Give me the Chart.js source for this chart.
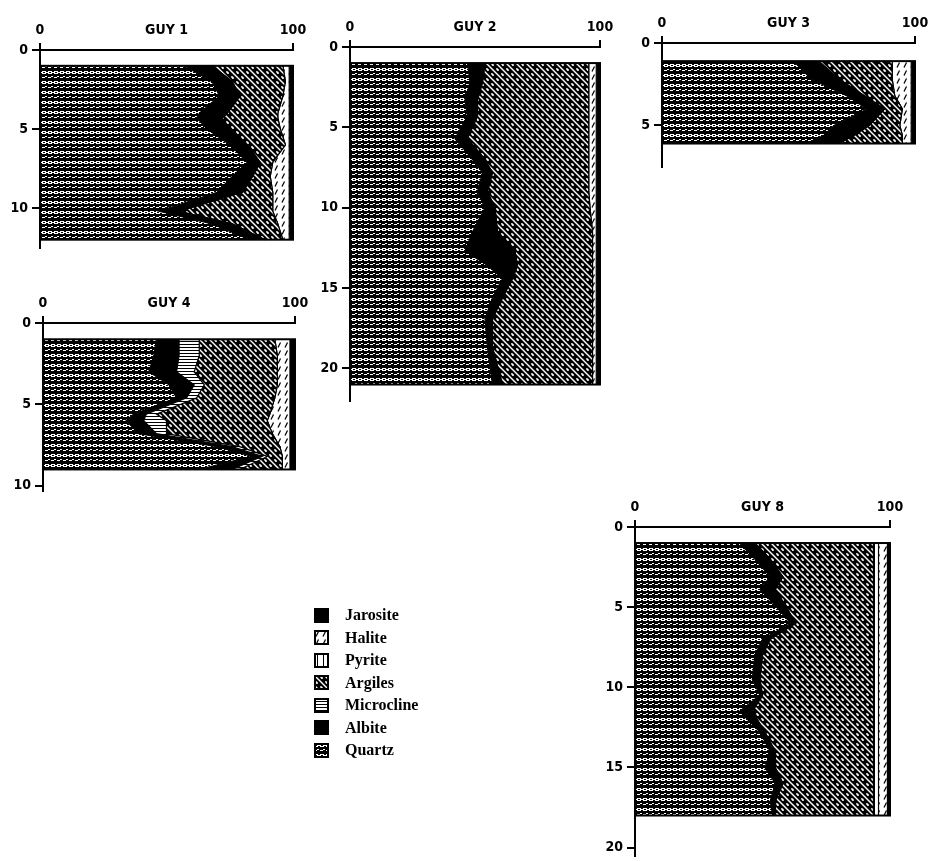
<!DOCTYPE html>
<html>
<head>
<meta charset="utf-8">
<script src="https://cdn.jsdelivr.net/npm/chart.js@4.4.0/dist/chart.umd.min.js"></script>
<style>
    body { margin: 0; background: #fff; width: 932px; height: 861px; position: relative; overflow: hidden; }
    canvas.chart { position: absolute; }
    #legend { position: absolute; left: 314px; top: 604px; font: bold 16px 'Liberation Serif', 'DejaVu Serif', serif; color: #000; }
    .row { display: flex; align-items: center; height: 22.5px; }
    .row canvas { margin-right: 16px; }
</style>
</head>
<body>
<canvas id="guy1" class="chart" style="left:0px;top:20px" width="315" height="240"></canvas>
<canvas id="guy2" class="chart" style="left:310px;top:17px" width="312" height="396"></canvas>
<canvas id="guy3" class="chart" style="left:622px;top:13px" width="315" height="166"></canvas>
<canvas id="guy4" class="chart" style="left:3px;top:293px" width="314" height="210"></canvas>
<canvas id="guy8" class="chart" style="left:595px;top:497px" width="317" height="371"></canvas>
<div id="legend"></div>
<script>
// stacking order, left (0 %) to right (100 %)
const minerals = ['Quartz', 'Albite', 'Microcline', 'Argiles', 'Pyrite', 'Halite', 'Jarosite'];
const legendOrder = ['Jarosite', 'Halite', 'Pyrite', 'Argiles', 'Microcline', 'Albite', 'Quartz'];
const xTicks = [0, 50, 100];

// GUY 1
const guy1Depth      = [1, 2, 2.9, 4, 4.3, 5, 6, 7.1, 8, 9, 10.2, 11, 12];
const guy1Quartz     = [57, 68, 71, 63, 62, 66, 75, 82, 76, 70, 47, 68, 83];
const guy1Albite     = [11, 8, 8, 11, 10, 9, 7, 5, 8, 10, 8, 8, 6];
const guy1Microcline = [0, 0, 0, 0, 0, 0, 0, 0, 0, 0, 0, 0, 0];
const guy1Argiles    = [28, 21, 17, 20, 22, 20, 15, 5, 7, 12, 37, 18, 7];
const guy1Pyrite     = [0, 0, 0, 0, 0, 0, 0, 0, 0, 0, 0, 0, 0];
const guy1Halite     = [2.5, 1.5, 2.5, 4.5, 4.5, 3.5, 1.5, 6.5, 7.5, 6.5, 6.5, 4.5, 2.5];
const guy1Jarosite   = [1.5, 1.5, 1.5, 1.5, 1.5, 1.5, 1.5, 1.5, 1.5, 1.5, 1.5, 1.5, 1.5];
const guy1YTicks     = [0, 5, 10];

// GUY 2
const guy2Depth      = [1, 2.2, 3.3, 4.3, 5.7, 6.8, 7.8, 9, 10, 11.5, 12.7, 13.6, 14.4, 15.6, 16.9, 18.7, 21];
const guy2Quartz     = [47, 48, 46, 47, 42, 48, 53, 51, 54, 49, 46, 55, 61, 57, 54, 55, 57];
const guy2Albite     = [7, 5, 5, 4, 5, 5, 4, 4, 4, 10, 20, 12, 4, 4, 3, 2, 4];
const guy2Microcline = [0, 0, 0, 0, 0, 0, 0, 0, 0, 0, 0, 0, 0, 0, 0, 0, 0];
const guy2Argiles    = [41.5, 42.5, 44.5, 44.5, 48.5, 42.5, 38.5, 40.5, 38, 38, 31, 30, 32, 36, 40, 40, 36];
const guy2Pyrite     = [0, 0, 0, 0, 0, 0, 0, 0, 0, 0, 0, 0, 0, 0, 0, 0, 0];
const guy2Halite     = [3, 3, 3, 3, 3, 3, 3, 3, 2.5, 1.5, 1.5, 1.5, 1.5, 1.5, 1.5, 1.5, 1.5];
const guy2Jarosite   = [1.5, 1.5, 1.5, 1.5, 1.5, 1.5, 1.5, 1.5, 1.5, 1.5, 1.5, 1.5, 1.5, 1.5, 1.5, 1.5, 1.5];
const guy2YTicks     = [0, 5, 10, 15, 20];

// GUY 3
const guy3Depth      = [1.1, 2.2, 3.2, 4, 5, 5.6, 6.1];
const guy3Quartz     = [52, 59, 73, 81, 68, 64, 57];
const guy3Albite     = [10, 11, 7, 7, 14, 12, 13];
const guy3Microcline = [0, 0, 0, 0, 0, 0, 0];
const guy3Argiles    = [29, 21, 12, 7, 12, 19, 25];
const guy3Pyrite     = [0, 0, 0, 0, 0, 0, 0];
const guy3Halite     = [7.5, 7.5, 6.5, 3.5, 4.5, 3.5, 3.5];
const guy3Jarosite   = [1.5, 1.5, 1.5, 1.5, 1.5, 1.5, 1.5];
const guy3YTicks     = [0, 5];

// GUY 4
const guy4Depth      = [1, 2, 3, 3.8, 4.6, 5.6, 6, 6.8, 7.6, 8.2, 9];
const guy4Quartz     = [45, 44, 42, 50, 53, 36, 33, 38, 69, 83, 62];
const guy4Albite     = [9, 10, 11, 10, 4, 5, 7, 7, 6, 4, 13];
const guy4Microcline = [8, 8, 7, 4, 4, 4, 9, 4, 3, 2, 3];
const guy4Argiles    = [30, 31, 33, 29, 31, 45, 40, 42, 16, 6, 17];
const guy4Pyrite     = [0, 0, 0, 0, 0, 0, 0, 0, 0, 0, 0];
const guy4Halite     = [6, 5, 5, 5, 6, 8, 9, 7, 4, 3, 3];
const guy4Jarosite   = [2, 2, 2, 2, 2, 2, 2, 2, 2, 2, 2];
const guy4YTicks     = [0, 5, 10];

// GUY 8
const guy8Depth      = [1, 2, 3.1, 3.9, 4.9, 6, 7, 8, 9.5, 10.5, 11.5, 12.8, 14, 15, 16, 17.1, 18];
const guy8Quartz     = [41, 47, 53, 49, 55, 61, 50, 47, 46, 49, 41, 49, 53, 51, 55, 53, 54];
const guy8Albite     = [6, 6, 5, 6, 4, 2, 3, 3, 3, 1, 5, 2, 2, 4, 3, 2, 1];
const guy8Microcline = [0, 0, 0, 0, 0, 0, 0, 0, 0, 0, 0, 0, 0, 0, 0, 0, 0];
const guy8Argiles    = [46.5, 40.5, 35.5, 38.5, 34.5, 30.5, 40.5, 43.5, 44.5, 43.5, 47.5, 42.5, 38.5, 38.5, 35.5, 38.5, 38.5];
const guy8Pyrite     = [2, 2, 2, 2, 2, 2, 2, 2, 2, 2, 2, 2, 2, 2, 2, 2, 2];
const guy8Halite     = [3.5, 3.5, 3.5, 3.5, 3.5, 3.5, 3.5, 3.5, 3.5, 3.5, 3.5, 3.5, 3.5, 3.5, 3.5, 3.5, 3.5];
const guy8Jarosite   = [1, 1, 1, 1, 1, 1, 1, 1, 1, 1, 1, 1, 1, 1, 1, 1, 1];
const guy8YTicks     = [0, 5, 10, 15, 20];

// pattern tiles
function makeTile(w, h, draw) {
    const c = document.createElement('canvas');
    c.width = w;
    c.height = h;
    draw(c.getContext('2d'), w, h);
    return c;
}

const tiles = {
    Quartz: makeTile(6, 10, g => {
        g.fillStyle = '#000';
        g.fillRect(0, 0, 6, 10);
        g.fillStyle = '#fff';
        // row of small loops
        g.fillRect(0, 1, 4, 1);
        g.fillRect(0, 3, 4, 1);
        g.fillRect(0, 2, 1, 1);
        g.fillRect(3, 2, 1, 1);
        g.fillRect(4, 2, 2, 1);
        // row of wavy dashes
        g.fillRect(0, 7, 3, 1);
        g.fillRect(3, 6, 2, 1);
    }),
    Microcline: makeTile(4, 3, g => {
        g.fillStyle = '#fff';
        g.fillRect(0, 0, 4, 3);
        g.fillStyle = '#000';
        g.fillRect(0, 0, 4, 1);
    }),
    Argiles: makeTile(10, 10, (g, s) => {
        g.fillStyle = '#000';
        g.fillRect(0, 0, s, s);
        g.strokeStyle = '#fff';
        g.lineWidth = 1.4;
        for (let k = -1; k <= 1; k++) {
            g.beginPath();
            g.moveTo(k * s - 1, -1);
            g.lineTo(k * s + s + 1, s + 1);
            g.stroke();
        }
        g.fillStyle = '#fff';
        [[7.5, 2.5], [2.5, 7.5]].forEach(([cx, cy]) => {
            g.beginPath();
            g.ellipse(cx, cy, 1.8, 0.9, Math.PI / 4, 0, Math.PI * 2);
            g.fill();
        });
    }),
    Pyrite: makeTile(6, 6, g => {
        g.fillStyle = '#fff';
        g.fillRect(0, 0, 6, 6);
        g.fillStyle = '#000';
        g.fillRect(3, 0, 1, 6);
    }),
    Halite: makeTile(7, 8, g => {
        g.fillStyle = '#fff';
        g.fillRect(0, 0, 7, 8);
        g.strokeStyle = '#000';
        g.lineWidth = 1.3;
        g.beginPath();
        g.moveTo(2, 6.5);
        g.lineTo(4.5, 1.5);
        g.stroke();
    })
};

const helper = document.createElement('canvas').getContext('2d');
const fills = {
    Quartz: helper.createPattern(tiles.Quartz, 'repeat'),
    Albite: '#000',
    Microcline: helper.createPattern(tiles.Microcline, 'repeat'),
    Argiles: helper.createPattern(tiles.Argiles, 'repeat'),
    Pyrite: helper.createPattern(tiles.Pyrite, 'repeat'),
    Halite: helper.createPattern(tiles.Halite, 'repeat'),
    Jarosite: '#000'
};

const tickFont = { family: "'DejaVu Sans Condensed', 'Liberation Sans Narrow', sans-serif", size: 14, weight: 'bold' };

// outline of the sampled interval
const framePlugin = {
    id: 'frame',
    afterDatasetsDraw(chart, args, opts) {
        const { ctx, scales: { x, y } } = chart;
        const d = opts.depth;
        const top = y.getPixelForValue(d[0]);
        const bot = y.getPixelForValue(d[d.length - 1]);
        const l = x.getPixelForValue(0);
        const r = x.getPixelForValue(100);
        ctx.save();
        ctx.strokeStyle = '#000';
        ctx.lineWidth = 2;
        ctx.strokeRect(l, top, r - l, bot - top);
        ctx.restore();
    }
};

function createProfile(canvasId, name, depth, series, yTicks, yMax) {
    new Chart(document.getElementById(canvasId), {
        type: 'line',
        data: {
            datasets: minerals.map((m, k) => ({
                label: m,
                data: depth.map((d, i) => ({ x: series[k][i], y: d })),
                backgroundColor: fills[m],
                borderColor: '#000',
                borderWidth: 1.2,
                pointRadius: 0,
                tension: 0,
                fill: k === 0 ? 'origin' : '-1'
            }))
        },
        plugins: [framePlugin],
        options: {
            indexAxis: 'y',
            responsive: false,
            animation: false,
            layout: { padding: { top: 0, left: 0, right: 22, bottom: 10 } },
            plugins: {
                legend: { display: false },
                tooltip: { enabled: false },
                frame: { depth: depth }
            },
            scales: {
                x: {
                    type: 'linear',
                    position: 'top',
                    stacked: true,
                    min: 0,
                    max: 100,
                    afterFit: s => { s.height = 30; },
                    afterBuildTicks: s => { s.ticks = xTicks.map(v => ({ value: v })); },
                    ticks: {
                        callback: v => v === 50 ? name : v,
                        autoSkip: false,
                        maxRotation: 0,
                        padding: 4,
                        color: '#000',
                        font: tickFont
                    },
                    grid: {
                        drawOnChartArea: false,
                        tickLength: 7,
                        lineWidth: 2,
                        tickColor: c => (c.tick && c.tick.value === 50) ? 'rgba(0,0,0,0)' : '#000'
                    },
                    border: { color: '#000', width: 2 }
                },
                y: {
                    type: 'linear',
                    reverse: true,
                    min: 0,
                    max: yMax,
                    afterFit: s => { s.width = 40; },
                    afterBuildTicks: s => { s.ticks = yTicks.map(v => ({ value: v })); },
                    ticks: { padding: 4, color: '#000', font: tickFont },
                    grid: { drawOnChartArea: false, tickLength: 8, lineWidth: 2, tickColor: '#000' },
                    border: { color: '#000', width: 2 }
                }
            }
        }
    });
}

createProfile('guy1', 'GUY 1', guy1Depth,
    [guy1Quartz, guy1Albite, guy1Microcline, guy1Argiles, guy1Pyrite, guy1Halite, guy1Jarosite], guy1YTicks, 12.5);
createProfile('guy2', 'GUY 2', guy2Depth,
    [guy2Quartz, guy2Albite, guy2Microcline, guy2Argiles, guy2Pyrite, guy2Halite, guy2Jarosite], guy2YTicks, 22);
createProfile('guy3', 'GUY 3', guy3Depth,
    [guy3Quartz, guy3Albite, guy3Microcline, guy3Argiles, guy3Pyrite, guy3Halite, guy3Jarosite], guy3YTicks, 7.5);
createProfile('guy4', 'GUY 4', guy4Depth,
    [guy4Quartz, guy4Albite, guy4Microcline, guy4Argiles, guy4Pyrite, guy4Halite, guy4Jarosite], guy4YTicks, 10.3);
createProfile('guy8', 'GUY 8', guy8Depth,
    [guy8Quartz, guy8Albite, guy8Microcline, guy8Argiles, guy8Pyrite, guy8Halite, guy8Jarosite], guy8YTicks, 20.5);

// legend
const legend = document.getElementById('legend');
legendOrder.forEach(m => {
    const row = document.createElement('div');
    row.className = 'row';
    const sw = document.createElement('canvas');
    sw.width = 15;
    sw.height = 15;
    const g = sw.getContext('2d');
    g.fillStyle = fills[m];
    g.fillRect(0, 0, 15, 15);
    g.strokeStyle = '#000';
    g.lineWidth = 2;
    g.strokeRect(1, 1, 13, 13);
    const label = document.createElement('span');
    label.textContent = m;
    row.appendChild(sw);
    row.appendChild(label);
    legend.appendChild(row);
});
</script>
</body>
</html>
